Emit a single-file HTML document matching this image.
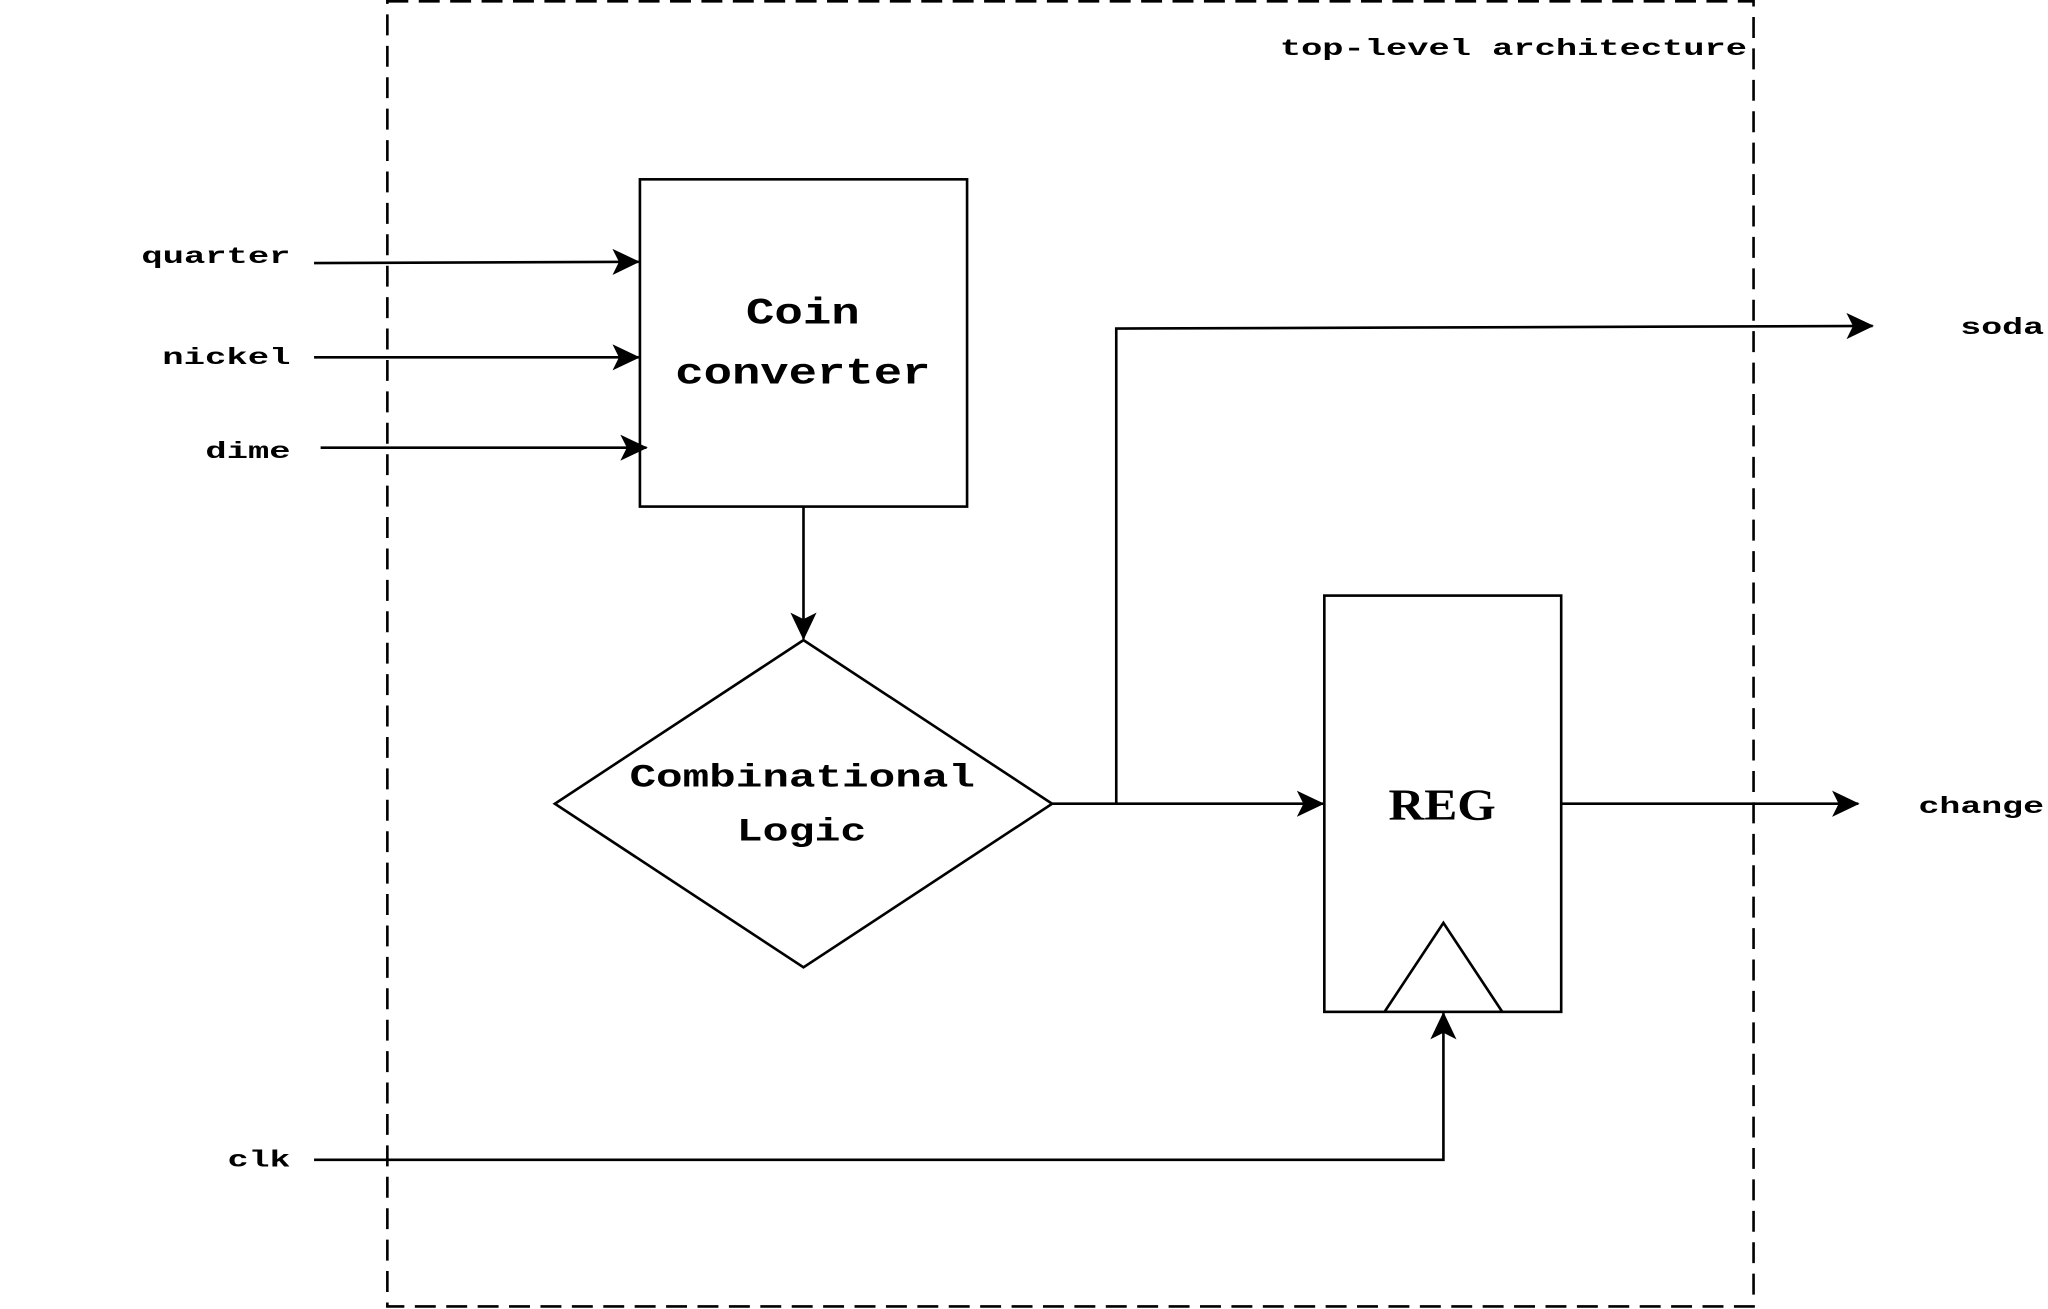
<!DOCTYPE html>
<html><head><meta charset="utf-8"><style>html,body{margin:0;padding:0;background:#fff;}svg{display:block}</style></head>
<body>
<svg width="2048" height="1309" viewBox="0 0 1565 1000" preserveAspectRatio="none" xmlns="http://www.w3.org/2000/svg">
<defs>
<marker id="a" markerWidth="22" markerHeight="22" refX="20" refY="10" orient="auto" markerUnits="userSpaceOnUse">
<path d="M0,0 L21,10 L0,20 L5,10 Z" fill="#000"/>
</marker>
</defs>
<g font-family="Liberation Mono, monospace" font-weight="bold" fill="#000">
<rect x="296" y="1" width="1044" height="997" fill="none" stroke="#000" stroke-width="2" stroke-dasharray="16,8"/>
<text x="978" y="42" font-size="18" textLength="357" lengthAdjust="spacingAndGlyphs">top-level architecture</text>

<rect x="489" y="137" width="250" height="250" fill="none" stroke="#000" stroke-width="2"/>
<text x="570" y="247" font-size="28" textLength="87" lengthAdjust="spacingAndGlyphs">Coin</text>
<text x="516" y="293" font-size="28" textLength="195" lengthAdjust="spacingAndGlyphs">converter</text>

<polygon points="614,489 804,614 614,739 424,614" fill="none" stroke="#000" stroke-width="2"/>
<text x="481" y="601" font-size="25" textLength="264" lengthAdjust="spacingAndGlyphs">Combinational</text>
<text x="563" y="642" font-size="25" textLength="99" lengthAdjust="spacingAndGlyphs">Logic</text>

<rect x="1012" y="455" width="181" height="318" fill="none" stroke="#000" stroke-width="2"/>
<polyline points="1058,773 1103,705 1148,773" fill="none" stroke="#000" stroke-width="2"/>
<text x="1061" y="626" font-size="34" textLength="82" lengthAdjust="spacingAndGlyphs" font-family="Liberation Serif, serif">REG</text>

<g stroke="#000" stroke-width="2" fill="none">
<line x1="240" y1="201" x2="488" y2="200" marker-end="url(#a)"/>
<line x1="240" y1="273" x2="488" y2="273" marker-end="url(#a)"/>
<line x1="245" y1="342" x2="494" y2="342" marker-end="url(#a)"/>
<line x1="614" y1="387" x2="614" y2="488" marker-end="url(#a)"/>
<line x1="804" y1="614" x2="1011" y2="614" marker-end="url(#a)"/>
<polyline points="853,614 853,251 1431,249" marker-end="url(#a)"/>
<line x1="1193" y1="614" x2="1420" y2="614" marker-end="url(#a)"/>
<polyline points="240,886 1103,886 1103,774" marker-end="url(#a)"/>
</g>

<text x="108" y="201" font-size="18" textLength="114" lengthAdjust="spacingAndGlyphs">quarter</text>
<text x="124" y="278" font-size="18" textLength="98" lengthAdjust="spacingAndGlyphs">nickel</text>
<text x="157" y="350" font-size="18" textLength="65" lengthAdjust="spacingAndGlyphs">dime</text>
<text x="174" y="891" font-size="18" textLength="48" lengthAdjust="spacingAndGlyphs">clk</text>
<text x="1498" y="255" font-size="18" textLength="64" lengthAdjust="spacingAndGlyphs">soda</text>
<text x="1466" y="621" font-size="18" textLength="96" lengthAdjust="spacingAndGlyphs">change</text>
</g>
</svg>
</body></html>
